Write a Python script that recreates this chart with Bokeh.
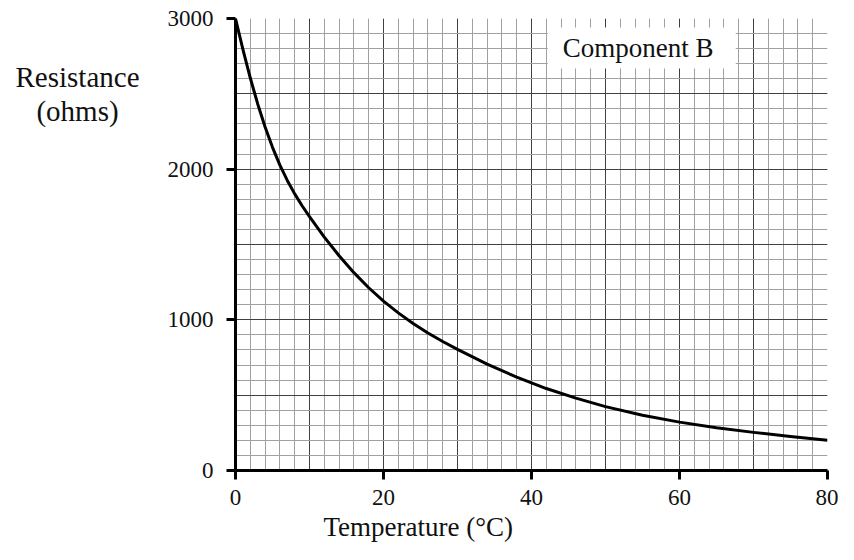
from bokeh.plotting import figure
from bokeh.layouts import row
from bokeh.models import Range1d, SingleIntervalTicker, BoxAnnotation, Label, Title
from bokeh.core.properties import value
from bokeh.embed import file_html
from bokeh.resources import INLINE

# Data
temperature = [0, 1, 2, 3, 4, 5, 6, 7, 8, 9, 10, 12, 14, 16, 18, 20, 22, 24, 26, 28, 30,
               34, 38, 42, 46, 50, 55, 60, 65, 70, 75, 80]
resistance = [3000, 2795, 2605, 2433, 2280, 2145, 2027, 1925, 1836, 1757, 1685, 1549,
              1425, 1313, 1213, 1124, 1046, 976, 913, 856, 804, 706, 620, 544, 480,
              424, 367, 321, 284, 253, 225, 200]

x_ticks = [0, 20, 40, 60, 80]
y_ticks = [0, 1000, 2000, 3000]
series_name = "Component B"
x_title = "Temperature (°C)"
y_title_lines = ["Resistance", "(ohms)"]

FONT = "Liberation Serif"
TXT = "#111111"

# ---- left panel holding the horizontal y-axis title ----
title_w = 150
tp = figure(width=title_w, height=544, output_backend="svg", toolbar_location=None,
            x_range=Range1d(0, title_w), y_range=Range1d(544, 0),
            min_border=0, min_border_left=0, min_border_right=0,
            min_border_top=0, min_border_bottom=0)
tp.axis.visible = False
tp.grid.visible = False
tp.outline_line_color = None
tp.background_fill_color = "white"
tp.border_fill_color = "white"
tp.text(x=[77, 77], y=[71, 111], text=y_title_lines, text_align="center",
        text_baseline="middle", text_font=value(FONT), text_font_size="29px",
        text_color=TXT)

# ---- main chart ----
p = figure(width=838 - title_w, height=544, output_backend="svg", toolbar_location=None,
           x_range=Range1d(0, 80), y_range=Range1d(0, 3000),
           min_border_left=235 - title_w, min_border_right=11, min_border_top=18,
           min_border_bottom=74)
p.background_fill_color = "white"
p.border_fill_color = "white"
p.outline_line_color = None

# Grids: major every 10 / 500, minor every 2 / 100
p.xgrid.ticker = SingleIntervalTicker(interval=10, num_minor_ticks=5)
p.ygrid.ticker = SingleIntervalTicker(interval=500, num_minor_ticks=5)
for g in (p.xgrid, p.ygrid):
    g.grid_line_color = "#404040"
    g.grid_line_width = 1
    g.minor_grid_line_color = "#a0a0a0"
    g.minor_grid_line_width = 1

# Axes
p.xaxis.ticker = x_ticks
p.yaxis.ticker = y_ticks
for ax in (p.xaxis, p.yaxis):
    ax.axis_line_width = 3
    ax.axis_line_color = "black"
    ax.major_tick_line_width = 3
    ax.major_tick_line_color = "black"
    ax.major_tick_in = 0
    ax.major_tick_out = 9
    ax.minor_tick_line_color = None
    ax.major_label_text_font = FONT
    ax.major_label_text_font_size = "23px"
    ax.major_label_text_color = TXT
    ax.major_label_standoff = 10
p.yaxis.major_label_standoff = 13

# X title, placed left of centre as in the reference
p.add_layout(Title(text=x_title, align="left", offset=88, standoff=5,
                   text_font=FONT, text_font_style="normal",
                   text_font_size="27px", text_color=TXT), "below")

# Curve
p.line(temperature, resistance, line_color="black", line_width=3, line_join="round")

# Series label box
box = BoxAnnotation(left=42.2, right=67.6, bottom=2668, top=2940,
                    fill_color="white", fill_alpha=1.0, line_color=None)
p.add_layout(box)
p.add_layout(Label(x=54.4, y=2807, text=series_name, text_align="center",
                   text_baseline="middle", text_font=FONT,
                   text_font_size="27px", text_color=TXT))

layout = row(tp, p, spacing=0)
open("out.html", "w").write(file_html(layout, INLINE))
